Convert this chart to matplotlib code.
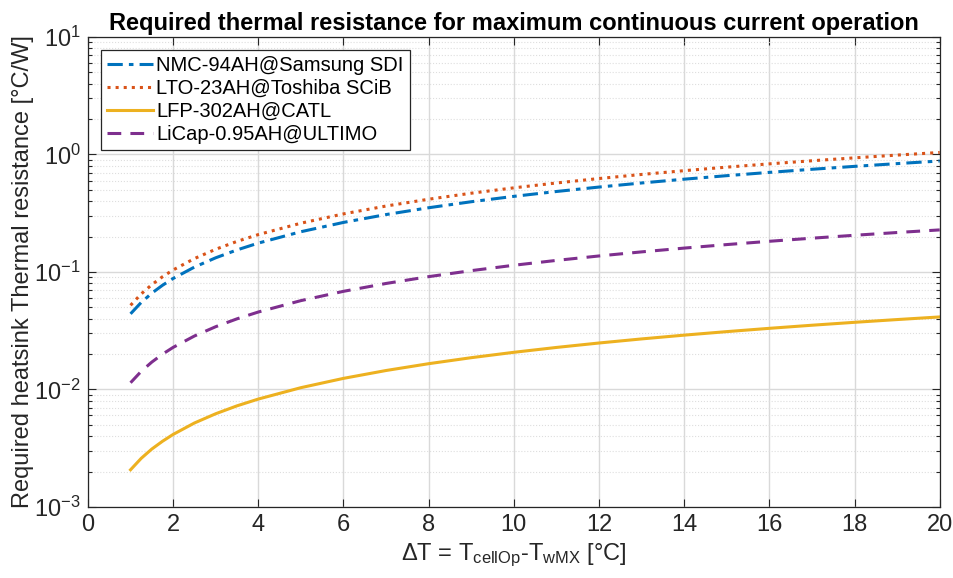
import matplotlib
matplotlib.use("Agg")
import matplotlib.pyplot as plt
from matplotlib.ticker import LogLocator, MultipleLocator, NullFormatter

plt.rcParams['font.family'] = ['Liberation Sans', 'DejaVu Sans']
plt.rcParams['mathtext.fontset'] = 'custom'
plt.rcParams['mathtext.rm'] = 'Liberation Sans'
plt.rcParams['mathtext.it'] = 'Liberation Sans'
plt.rcParams['mathtext.default'] = 'regular'

# delta T [°C]
dT = [1, 1.25, 1.5, 1.75, 2, 2.5, 3, 3.5, 4, 5, 6, 7, 8, 9, 10,
      11, 12, 13, 14, 15, 16, 17, 18, 19, 20]

nmc = [0.044, 0.055, 0.066, 0.077, 0.088, 0.110, 0.132, 0.154, 0.176, 0.220,
       0.264, 0.308, 0.352, 0.396, 0.440, 0.484, 0.528, 0.572, 0.616, 0.660,
       0.704, 0.748, 0.792, 0.836, 0.880]
lto = [0.052, 0.065, 0.078, 0.091, 0.104, 0.130, 0.156, 0.182, 0.208, 0.260,
       0.312, 0.364, 0.416, 0.468, 0.520, 0.572, 0.624, 0.676, 0.728, 0.780,
       0.832, 0.884, 0.936, 0.988, 1.040]
lfp = [0.00207, 0.00259, 0.00311, 0.00362, 0.00414, 0.00518, 0.00621, 0.00725,
       0.00828, 0.01035, 0.01242, 0.01449, 0.01656, 0.01863, 0.0207, 0.02277,
       0.02484, 0.02691, 0.02898, 0.03105, 0.03312, 0.03519, 0.03726, 0.03933,
       0.0414]
licap = [0.0114, 0.01425, 0.0171, 0.01995, 0.0228, 0.0285, 0.0342, 0.0399,
         0.0456, 0.057, 0.0684, 0.0798, 0.0912, 0.1026, 0.114, 0.1254, 0.1368,
         0.1482, 0.1596, 0.171, 0.1824, 0.1938, 0.2052, 0.2166, 0.228]

labels = ['NMC-94AH@Samsung SDI', 'LTO-23AH@Toshiba SCiB',
          'LFP-302AH@CATL', 'LiCap-0.95AH@ULTIMO']

fig = plt.figure(figsize=(9.54, 5.78), dpi=100)
ax = fig.add_axes([0.0922, 0.123, 0.8928, 0.813])

dark = '#262626'
lw = 2.2
ax.plot(dT, nmc, color='#0072BD', lw=lw, dashes=(5, 2, 1.5, 2), label=labels[0])
ax.plot(dT, lto, ':', color='#D95319', lw=lw, label=labels[1])
ax.plot(dT, lfp, '-', color='#EDB120', lw=lw, label=labels[2])
ax.plot(dT, licap, color='#7E2F8E', lw=lw, dashes=(4.5, 3), label=labels[3])

ax.set_yscale('log')
ax.set_xlim(0, 20)
ax.set_ylim(1e-3, 1e1)
ax.xaxis.set_major_locator(MultipleLocator(2))
ax.yaxis.set_major_locator(LogLocator(base=10, numticks=10))
ax.yaxis.set_minor_locator(LogLocator(base=10, subs=range(2, 10), numticks=20))
ax.yaxis.set_minor_formatter(NullFormatter())

ax.grid(True, which='major', color='#d9d9d9', lw=1.0)
ax.grid(True, which='minor', axis='y', color='#dedede', lw=0.8, ls=':')
ax.set_axisbelow(True)

ax.tick_params(which='both', direction='in', top=True, right=True,
               colors=dark, labelsize=17, width=0.8)
ax.tick_params(which='major', length=6, pad=5)
ax.tick_params(which='minor', length=3)
for s in ax.spines.values():
    s.set_color(dark)
    s.set_linewidth(0.9)

ax.set_title('Required thermal resistance for maximum continuous current operation',
             fontsize=17, fontweight='bold', pad=5)
ax.set_xlabel(r'ΔT = T$_{cellOp}$-T$_{wMX}$ [°C]', fontsize=17, color=dark,
              labelpad=4)
ax.set_ylabel('Required heatsink Thermal resistance [°C/W]', fontsize=17,
              color=dark, labelpad=0)

leg = ax.legend(loc='upper left', bbox_to_anchor=(0.008, 0.985), fontsize=14.5,
                frameon=True, fancybox=False, framealpha=1, edgecolor=dark,
                handlelength=2.3, borderpad=0.3, labelspacing=0.2,
                handletextpad=0.15, borderaxespad=0.3)
leg.get_frame().set_linewidth(0.9)

fig.savefig('out.png', dpi=100)
